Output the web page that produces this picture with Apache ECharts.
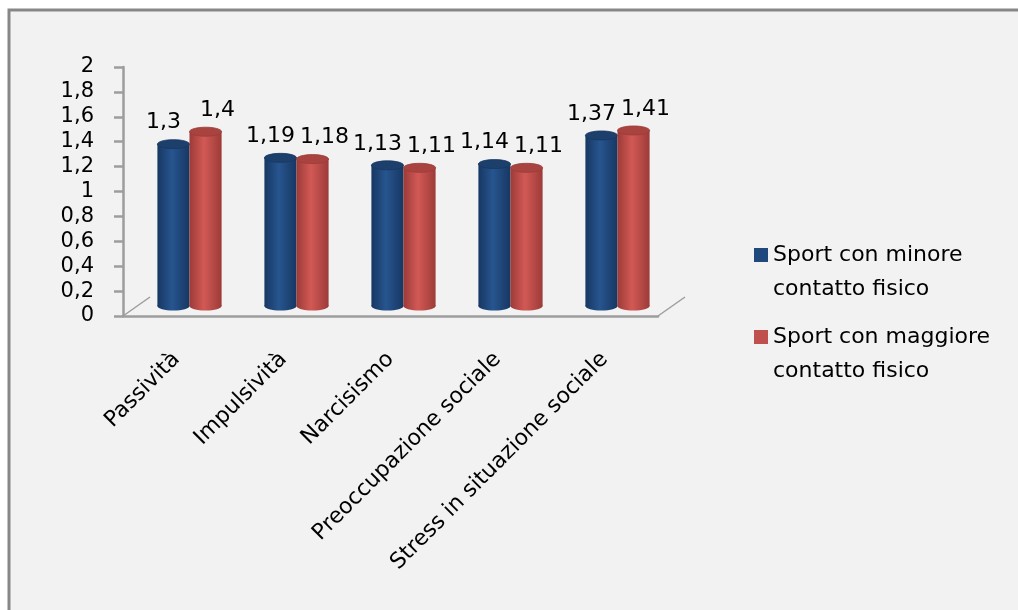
<!DOCTYPE html>
<html>
<head>
<meta charset="utf-8">
<script src="https://cdn.jsdelivr.net/npm/echarts@6/dist/echarts.min.js"></script>
<style>
  html, body { margin: 0; padding: 0; background: #fff; }
  #myChart { width: 1018px; height: 610px; }
</style>
</head>
<body>
<div id="myChart"></div>
<script>
let categories = ['Passività', 'Impulsività', 'Narcisismo', 'Preoccupazione sociale', 'Stress in situazione sociale']
let seriesNames = ['Sport con minore contatto fisico', 'Sport con maggiore contatto fisico']
let minoreValues = [1.3, 1.19, 1.13, 1.14, 1.37]
let maggioreValues = [1.4, 1.18, 1.11, 1.11, 1.41]
let yTicks = [0, 0.2, 0.4, 0.6, 0.8, 1, 1.2, 1.4, 1.6, 1.8, 2]

const FONT = 'DejaVu Sans'
// colori cilindri: bordo, centro, top
const palette = [
  {edge: '#173762', mid: '#27558f', top: '#1c3f6c', base: '#1f497d'},
  {edge: '#9c3b38', mid: '#d25955', top: '#a9433f', base: '#c0504d'}
]

// grid (piano frontale)
const G = {left: 123, top: 67, width: 535, height: 249}
const DEPTH = {dx: 13, dy: -10}

function fmt (v) {
  return String(v).replace('.', ',')
}

function cylinder (idx) {
  return function (params, api) {
    let cat = api.value(0)
    let v = api.value(1)
    let base = api.coord([cat, 0])
    let top = api.coord([cat, v])
    let bw = api.size([1, 0])[0] * 0.3
    let x0 = base[0] + DEPTH.dx + (idx === 0 ? -bw : 0)
    let yb = base[1] + DEPTH.dy
    let yt = top[1] + DEPTH.dy
    let ry = 4.5
    let c = palette[idx]
    let grad = new echarts.graphic.LinearGradient(0, 0, 1, 0, [
      {offset: 0, color: c.edge},
      {offset: 0.45, color: c.mid},
      {offset: 1, color: c.edge}
    ])
    return {
      type: 'group',
      children: [
        {type: 'ellipse', shape: {cx: x0 + bw / 2, cy: yb, rx: bw / 2, ry: ry}, style: {fill: grad}},
        {type: 'rect', shape: {x: x0, y: yt, width: bw, height: yb - yt}, style: {fill: grad}},
        {type: 'ellipse', shape: {cx: x0 + bw / 2, cy: yt, rx: bw / 2, ry: ry}, style: {fill: c.top, stroke: c.edge, lineWidth: 0.8}},
        {
          type: 'text',
          x: x0 + bw / 2 + (idx === 0 ? -10 : 12),
          y: yt - ry - 6,
          style: {text: fmt(v), font: '22px "' + FONT + '"', fill: '#000', align: 'center', verticalAlign: 'bottom'}
        }
      ]
    }
  }
}

let option = {
  backgroundColor: '#fff',
  animation: false,
  textStyle: {fontFamily: FONT},
  graphic: [
    {type: 'rect', z: -10, shape: {x: 9, y: 10, width: 1100, height: 700}, style: {fill: '#f2f2f2', stroke: '#878787', lineWidth: 3}},
    // piano di base 3D
    {type: 'line', shape: {x1: G.left, y1: G.top + G.height, x2: G.left + 27, y2: G.top + G.height - 19}, style: {stroke: '#9d9d9d', lineWidth: 1.5}},
    {type: 'line', shape: {x1: G.left + G.width, y1: G.top + G.height, x2: G.left + G.width + 27, y2: G.top + G.height - 19}, style: {stroke: '#9d9d9d', lineWidth: 1.5}}
  ],
  legend: {
    orient: 'vertical',
    left: 749,
    top: 199,
    itemWidth: 14,
    itemHeight: 14,
    itemGap: -20,
    icon: 'rect',
    data: seriesNames,
    // riga vuota iniziale: la prima riga resta allineata al quadratino
    formatter: function (name) {
      return ' \n' + name.replace(' contatto', '\ncontatto')
    },
    textStyle: {fontFamily: FONT, fontSize: 22, lineHeight: 34, color: '#000'}
  },
  grid: G,
  xAxis: {
    type: 'category',
    data: categories,
    axisLine: {lineStyle: {color: '#9d9d9d', width: 2.5}},
    axisTick: {length: 9, lineStyle: {color: '#9d9d9d', width: 2.5}},
    axisLabel: {rotate: 45, margin: 40, color: '#000', fontSize: 22, fontFamily: FONT}
  },
  yAxis: {
    type: 'value',
    min: yTicks[0],
    max: yTicks[yTicks.length - 1],
    interval: 0.2,
    splitLine: {show: false},
    axisLine: {show: true, lineStyle: {color: '#9d9d9d', width: 2.5}},
    axisTick: {show: true, length: 9, lineStyle: {color: '#9d9d9d', width: 2.5}},
    axisLabel: {
      margin: 29,
      color: '#000',
      fontSize: 21,
      fontFamily: FONT,
      formatter: function (v) {
        return fmt(Math.round(v * 10) / 10)
      }
    }
  },
  series: [
    {
      name: seriesNames[0],
      type: 'custom',
      itemStyle: {color: palette[0].base},
      renderItem: cylinder(0),
      data: minoreValues.map((v, i) => [i, v])
    },
    {
      name: seriesNames[1],
      type: 'custom',
      itemStyle: {color: palette[1].base},
      renderItem: cylinder(1),
      data: maggioreValues.map((v, i) => [i, v])
    }
  ]
}

let myChart = echarts.init(document.getElementById('myChart'))
myChart.setOption(option)
</script>
</body>
</html>
